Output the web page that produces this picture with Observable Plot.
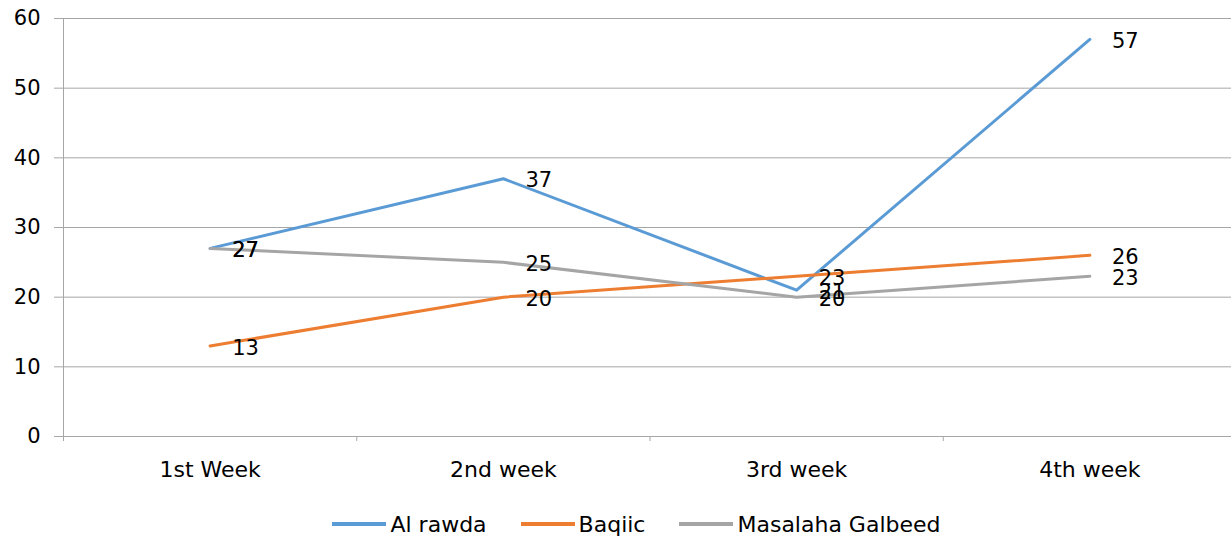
<!DOCTYPE html>
<html><head><meta charset="utf-8">
<script src="https://cdn.jsdelivr.net/npm/d3@7"></script>
<script src="https://cdn.jsdelivr.net/npm/@observablehq/plot@0.6"></script>
<style>
body{margin:0;background:#fff;font-family:"DejaVu Sans",sans-serif;}
#legend{display:flex;justify-content:center;align-items:center;height:24px;margin-top:22px;font-size:22px;color:#000;width:1231px;box-sizing:border-box;padding-left:42px;}
.item{display:flex;align-items:center;margin:0 17px;}
.item svg{margin-right:4px;}
</style>
</head><body><div id="chart"></div><div id="legend"></div>
<script>
const weeks = ["1st Week","2nd week","3rd week","4th week"];
const seriesNames = ["Al rawda","Baqiic","Masalaha Galbeed"];
const alRawda = [27,37,21,57];
const baqiic = [13,20,23,26];
const masalaha = [27,25,20,23];
const colors = ["#5B9BD5","#ED7D31","#A5A5A5"];
const yTicks = [0,10,20,30,40,50,60];
const boundaries = [-0.5,0.5,1.5,2.5];

const data = [];
[alRawda, baqiic, masalaha].forEach((vals, s) =>
  vals.forEach((v, i) => data.push({series: seriesNames[s], i, week: weeks[i], value: v})));

const gridColor = "#a6a6a6";
const plot = Plot.plot({
  width: 1231, height: 490,
  marginTop: 18, marginBottom: 54, marginLeft: 63, marginRight: 0,
  style: {fontFamily: "DejaVu Sans", fontSize: "21px", color: "#000", background: "#fff"},
  x: {type: "linear", domain: [-0.5, 3.5], range: [63, 1236], label: null},
  y: {domain: [0, 60], label: null},
  color: {domain: seriesNames, range: colors},
  marks: [
    Plot.gridY(yTicks, {stroke: gridColor, strokeOpacity: 1}),
    Plot.ruleX([-0.5], {y1: 0, y2: 60, stroke: gridColor}),
    Plot.axisY({ticks: yTicks, tickSize: 9, tickPadding: 14, stroke: gridColor, fill: "#000", fontSize: 21}),
    Plot.axisX({ticks: boundaries, tickSize: 5, stroke: gridColor, tickFormat: () => ""}),
    Plot.axisX({ticks: [0,1,2,3], tickSize: 0, tickPadding: 25, tickFormat: i => weeks[i], fill: "#000", fontSize: 22}),
    Plot.lineY(data, {x: "i", y: "value", z: "series", stroke: "series", strokeWidth: 3}),
    Plot.text(data, {x: "i", y: "value", text: "value", textAnchor: "start", dx: 22, dy: 2, fill: "#000", fontSize: 21})
  ]
});
document.getElementById("chart").appendChild(plot);

const legend = document.getElementById("legend");
seriesNames.forEach((name, k) => {
  const item = document.createElement("div");
  item.className = "item";
  item.innerHTML = `<svg width="54" height="6"><line x1="0" y1="3" x2="54" y2="3" stroke="${colors[k]}" stroke-width="4"/></svg><span>${name}</span>`;
  legend.appendChild(item);
});
</script>
</body></html>
